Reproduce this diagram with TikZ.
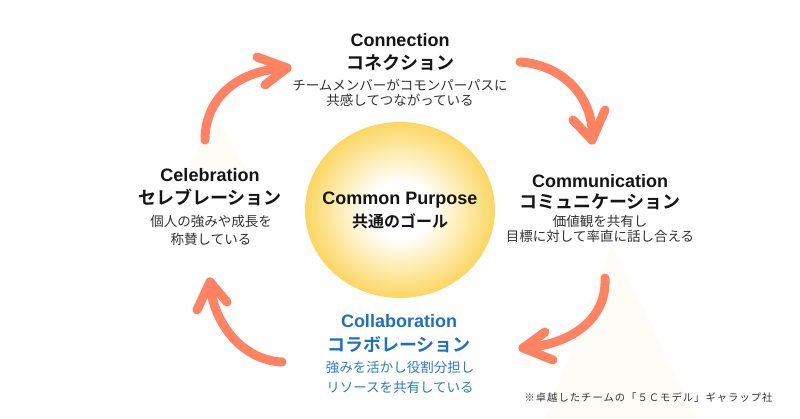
\documentclass[tikz,border=0pt]{standalone}
\usepackage{fontspec}
\setmainfont{Noto Sans CJK JP}[BoldFont={Noto Sans CJK JP Bold}]
\newfontfamily\latinhead{Liberation Sans}
\definecolor{headc}{HTML}{151515}
\definecolor{descc}{HTML}{333333}
\definecolor{blueh}{HTML}{1F6FC5}
\definecolor{blued}{HTML}{2B7BCF}
\definecolor{salmon}{HTML}{FF8262}
\definecolor{creambg}{HTML}{FEFCF6}
\definecolor{sunedge}{HTML}{FCD662}
\definecolor{sunmid}{HTML}{FEEDB4}
\definecolor{notec}{HTML}{333333}
\pgfdeclareradialshading{sun}{\pgfpoint{0bp}{0bp}}{color(0bp)=(white); color(8bp)=(white); color(16bp)=(sunmid); color(25bp)=(sunedge); color(50bp)=(sunedge)}
\begin{document}
\begin{tikzpicture}[x=1pt,y=-1pt,
  headtext/.style={font=\fontsize{18}{20}\selectfont\bfseries, text=headc, inner sep=0pt, anchor=center},
  latintext/.style={headtext, font=\fontsize{18}{20}\selectfont\latinhead\bfseries},
  desctext/.style={font=\fontsize{13.5}{15}\selectfont, text=descc, inner sep=0pt, anchor=center},
  bluehead/.style={headtext, text=blueh},
  bluelatin/.style={latintext, text=blueh},
  bluedesc/.style={desctext, text=blued},
  curvearrow/.style={draw=salmon, line width=9pt, line cap=round, line join=round},
  bgtri/.style={fill=creambg, draw=none}]
\useasboundingbox[fill=white] (0,0) rectangle (800,419);
% faint background triangles
\fill[bgtri] (217,118) -- (246,170) -- (186,170) -- cycle;
\fill[bgtri] (612,243) -- (696,419) -- (545,419) -- cycle;
% central circle
\shade[shading=sun] (400,210) ellipse [x radius=95, y radius=88];
\node[latintext] (cp) at (400,200) {Common Purpose};
\node[headtext, font=\fontsize{16}{18}\selectfont\bfseries] (cpj) at (400,221) {共通のゴール};
% Connection
\node[latintext] (conn) at (400,40.5) {Connection};
\node[headtext] (connj) at (400,63) {コネクション};
\node[desctext] (conn1) at (400,85) {チームメンバーがコモンパーパスに};
\node[desctext] (conn2) at (400,100) {共感してつながっている};
% Communication
\node[latintext] (comm) at (600,181.5) {Communication};
\node[headtext] (commj) at (600,201.5) {コミュニケーション};
\node[desctext] (comm1) at (600,221) {価値観を共有し};
\node[desctext] (comm2) at (600,236) {目標に対して率直に話し合える};
% Celebration
\node[latintext] (cele) at (210,175.5) {Celebration};
\node[headtext] (celej) at (210,197.5) {セレブレーション};
\node[desctext] (cele1) at (211,221.5) {個人の強みや成長を};
\node[desctext] (cele2) at (211,239) {称賛している};
% Collaboration
\node[bluelatin] (coll) at (399,321.5) {Collaboration};
\node[bluehead] (collj) at (399,345) {コラボレーション};
\node[bluedesc] (coll1) at (400,367) {強みを活かし役割分担し};
\node[bluedesc] (coll2) at (400,387) {リソースを共有している};
% note
\node[font=\fontsize{10.3}{12}\selectfont\addfontfeature{LetterSpace=10}, text=notec, inner sep=0pt] (note) at (648.5,398) {※卓越したチームの「５Ｃモデル」ギャラップ社};
% arrows
\coordinate (a1s) at (205,140); \coordinate (a1t) at (287,68);
\coordinate (a1l) at (257,57); \coordinate (a1r) at (265,85);
\draw[curvearrow] (a1s) .. controls (205,100) and (235,70) .. (a1t);
\draw[curvearrow] (a1l) -- (a1t) -- (a1r);
\coordinate (a2s) at (520,62); \coordinate (a2t) at (592,140);
\coordinate (a2l) at (573,120); \coordinate (a2r) at (605,110);
\draw[curvearrow] (a2s) .. controls (565,65) and (595,100) .. (a2t);
\draw[curvearrow] (a2l) -- (a2t) -- (a2r);
\coordinate (a3s) at (605,278); \coordinate (a3t) at (523,348);
\coordinate (a3l) at (545,332); \coordinate (a3r) at (553,360);
\draw[curvearrow] (a3s) .. controls (607,320) and (570,345) .. (a3t);
\draw[curvearrow] (a3l) -- (a3t) -- (a3r);
\coordinate (a4s) at (282,362); \coordinate (a4t) at (210,282);
\coordinate (a4l) at (197,310); \coordinate (a4r) at (227,302);
\draw[curvearrow] (a4s) .. controls (240,360) and (212,320) .. (a4t);
\draw[curvearrow] (a4l) -- (a4t) -- (a4r);
\end{tikzpicture}
\end{document}
